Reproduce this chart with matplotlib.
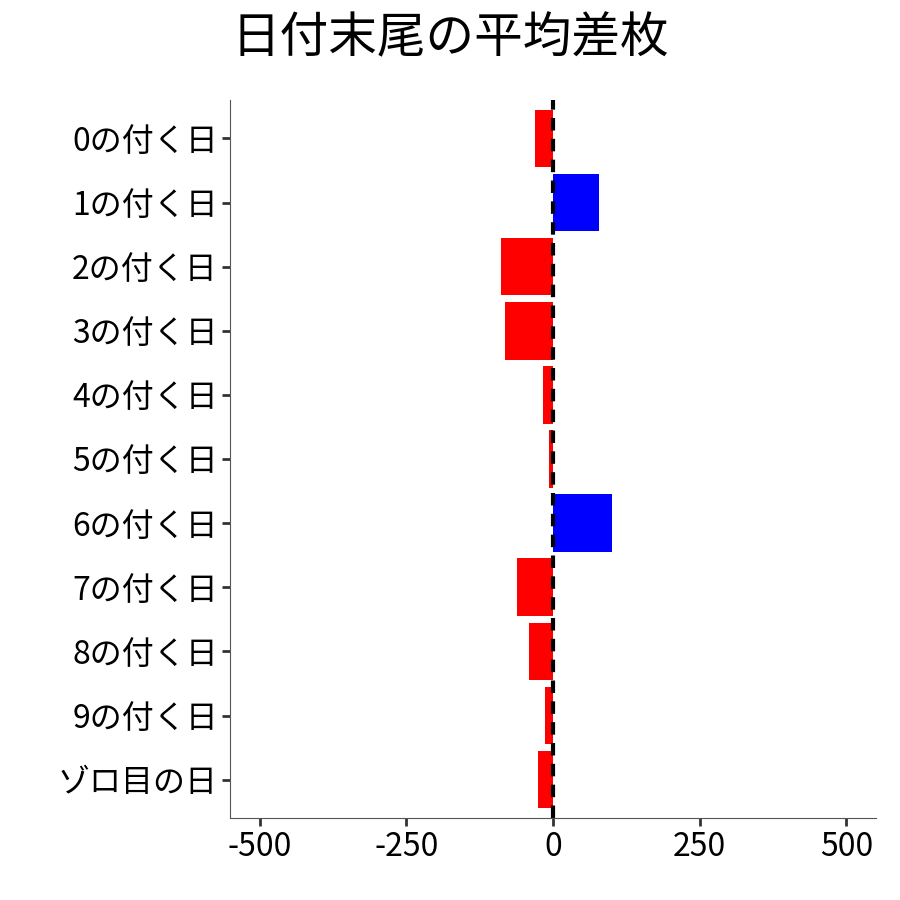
import matplotlib
matplotlib.use("Agg")
import matplotlib.pyplot as plt

plt.rcParams['font.family'] = ['Noto Sans CJK JP', 'DejaVu Sans']

categories = ["0の付く日", "1の付く日", "2の付く日", "3の付く日", "4の付く日", "5の付く日",
              "6の付く日", "7の付く日", "8の付く日", "9の付く日", "ゾロ目の日"]
values = [-31, 78, -88, -82, -17, -7, 100, -61, -41, -14, -26]
xticks = [-500, -250, 0, 250, 500]

fig = plt.figure(figsize=(9, 9), dpi=100)
ax = fig.add_axes([0.256, 0.091, 0.717, 0.798])
colors = ['blue' if v > 0 else 'red' for v in values]
pos = list(range(len(categories)))
ax.barh(pos, values, height=0.9, color=colors)
ax.axvline(0, color='black', linestyle='--', linewidth=3, dashes=(3, 2))
ax.set_yticks(pos)
ax.set_yticklabels(categories, fontsize=23)
ax.set_ylim(len(categories) - 0.4, -0.6)
ax.set_xlim(-550, 550)
ax.set_xticks(xticks)
ax.set_xticklabels([str(t) for t in xticks], fontsize=23)
for s in ['top', 'right']:
    ax.spines[s].set_visible(False)
for s in ['left', 'bottom']:
    ax.spines[s].set_color('#555555')
ax.tick_params(axis='both', length=6, width=2, color='#333333', pad=3)
fig.suptitle("日付末尾の平均差枚", fontsize=35, y=0.985)
fig.savefig("out.png", dpi=100)
